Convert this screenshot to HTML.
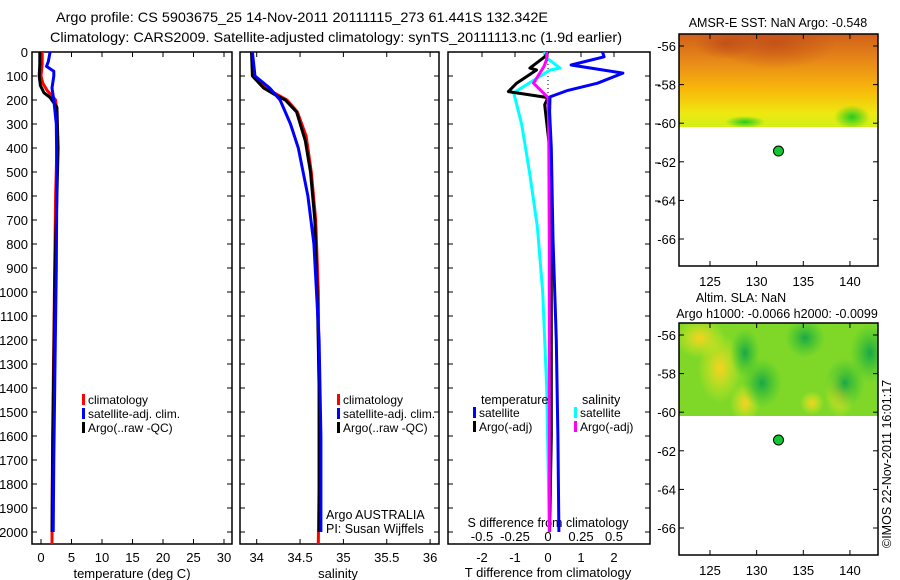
<!DOCTYPE html>
<html><head><meta charset="utf-8"><style>
html,body{margin:0;padding:0;background:#fff;}
svg{display:block;font-family:"Liberation Sans",sans-serif;}
</style></head><body>
<svg id="fig" width="900" height="580" viewBox="0 0 900 580" xmlns="http://www.w3.org/2000/svg">
<defs>
<linearGradient id="sstg" x1="0" y1="0" x2="0" y2="1">
<stop offset="0" stop-color="#d0601a"/><stop offset="0.3" stop-color="#e88a18"/><stop offset="0.6" stop-color="#f8b80a"/><stop offset="0.85" stop-color="#eee810"/><stop offset="1" stop-color="#d0f018"/>
</linearGradient>
<radialGradient id="sstg2"><stop offset="0" stop-color="#b84018" stop-opacity="0.6"/><stop offset="1" stop-color="#b84018" stop-opacity="0"/></radialGradient>
<radialGradient id="green"><stop offset="0" stop-color="#10c820" stop-opacity="0.9"/><stop offset="1" stop-color="#10c820" stop-opacity="0"/></radialGradient>
<radialGradient id="yel"><stop offset="0" stop-color="#f8d020" stop-opacity="1"/><stop offset="1" stop-color="#e0f020" stop-opacity="0"/></radialGradient>
<radialGradient id="dkg"><stop offset="0" stop-color="#18a848" stop-opacity="1"/><stop offset="1" stop-color="#30c030" stop-opacity="0"/></radialGradient>
</defs>
<text x="302" y="22" text-anchor="middle" font-size="14" textLength="492" lengthAdjust="spacingAndGlyphs">Argo profile: CS 5903675_25 14-Nov-2011 20111115_273 61.441S 132.342E</text>
<text x="336" y="42" text-anchor="middle" font-size="14" textLength="572" lengthAdjust="spacingAndGlyphs">Climatology: CARS2009. Satellite-adjusted climatology: synTS_20111113.nc (1.9d earlier)</text>
<g id="plots"></g>
</svg>
<script>
// depth levels (m)
const depthTicks=[0,100,200,300,400,500,600,700,800,900,1000,1100,1200,1300,1400,1500,1600,1700,1800,1900,2000];
// temperature profiles
const tClimD=[0,50,100,130,160,200,250,400,600,800,1200,1600,2050];
const tClimV=[0.2,0.2,0.0,0.3,1.0,2.4,2.6,2.6,2.4,2.3,2.1,1.9,1.8];
const tSatD=[0,40,60,80,100,150,200,300,500,900,1300,1700,2000];
const tSatV=[1.5,1.2,0.9,2.1,2.1,1.8,2.1,2.5,2.6,2.5,2.3,2.1,2.0];
const tArgoD=[0,50,100,140,170,190,230,400,600,900,1300,1700,2000];
const tArgoV=[-0.2,-0.2,-0.3,-0.1,0.5,1.5,2.6,2.8,2.6,2.3,2.1,1.9,1.8];
// salinity profiles
const sClimD=[0,100,150,180,200,250,350,500,700,1000,1400,1800,2050];
const sClimV=[33.95,33.96,34.1,34.25,34.35,34.47,34.57,34.63,34.68,34.71,34.72,34.72,34.71];
const sSatD=[0,100,150,200,300,400,600,800,1200,1600,2000];
const sSatV=[33.95,33.98,34.15,34.27,34.39,34.48,34.59,34.66,34.72,34.74,34.74];
const sArgoD=[0,100,150,180,200,250,370,500,700,1030,1400,1800,2000];
const sArgoV=[33.94,33.95,34.08,34.22,34.33,34.46,34.56,34.62,34.67,34.7,34.72,34.72,34.72];
// differences
const dTSatD=[0,20,54,88,130,160,187,250,400,780,1200,1600,2000];
const dTSatV=[1.65,1.7,0.7,2.27,1.5,0.6,0.06,0.05,0.1,0.15,0.25,0.3,0.33];
const dTArgoD=[0,20,67,75,130,165,190,220,400,800,1200,1600,2000];
const dTArgoV=[0.0,-0.1,-0.55,-0.35,-0.95,-1.2,0.0,-0.1,0.05,0.1,0.1,0.1,0.05];
const dSSatD=[0,20,67,75,170,300,500,730,1000,1400,2000];
const dSSatV=[-0.03,-0.02,0.09,0.015,-0.26,-0.2,-0.14,-0.08,-0.04,-0.01,0.01];
const dSArgoD=[0,30,60,130,190,300,800,1400,2000];
const dSArgoV=[-0.01,-0.01,-0.03,-0.11,0.0,0.005,0.01,0.01,0.01];
const tTicks=[0,5,10,15,20,25,30];
const sTicks=[34,34.5,35,35.5,36];
const dTTicks=[-2,-1,0,1,2];
const dSTicks=[-0.5,-0.25,0,0.25,0.5];
const lonTicks=[125,130,135,140];
const latTicks=[-56,-58,-60,-62,-64,-66];
const argoLon=132.342, argoLat=-61.441;

const NS="http://www.w3.org/2000/svg";
const root=document.getElementById('plots');
function el(tag,attrs,parent){const e=document.createElementNS(NS,tag);for(const k in attrs)e.setAttribute(k,attrs[k]);(parent||root).appendChild(e);return e;}
function txt(x,y,s,anchor,size,parent){const t=el('text',{x:x,y:y,'text-anchor':anchor||'start','font-size':size||13},parent);t.textContent=s;return t;}
const yD=d=>52+d*0.24;
const xT=v=>41+v*6.1;
const xS=v=>256.7+(v-34)*86.7;
const xDT=v=>548+v*33;
const xDS=v=>548+v*132;

function panel(x0,x1,name){
  const g=el('g',{});
  
  
  el('rect',{x:x0,y:52,width:x1-x0,height:492,fill:'none',stroke:'#000','stroke-width':1.5},g);
  depthTicks.forEach(d=>{
    el('line',{x1:x0,x2:x0+5,y1:yD(d),y2:yD(d),stroke:'#000'},g);
    el('line',{x1:x1-5,x2:x1,y1:yD(d),y2:yD(d),stroke:'#000'},g);
  });
  return g;
}
function line(D,V,xf,color,w,name,parent){
  const pts=D.map((d,i)=>xf(V[i]).toFixed(1)+','+yD(d).toFixed(1)).join(' ');
  const p=el('polyline',{points:pts,fill:'none',stroke:color,'stroke-width':w||3,'stroke-linejoin':'round'},parent);
  
  
  return p;
}
function legend(x,y,color,label,parent){
  const g=el('g',{},parent);
  
  
  el('rect',{x:x,y:y-10,width:3,height:11,fill:color},g);
  txt(x+6,y,label,'start',12,g);
}

// Panel 1 temperature
const p1=panel(32,232,'temperature-panel');
depthTicks.forEach(d=>{txt(28,yD(d)+5,String(d),'end',13,p1);});
tTicks.forEach(v=>{el('line',{x1:xT(v),x2:xT(v),y1:52,y2:57,stroke:'#000'},p1);el('line',{x1:xT(v),x2:xT(v),y1:539,y2:544,stroke:'#000'},p1);txt(xT(v),562,String(v),'middle',13,p1);});
txt(132,578,'temperature (deg C)','middle',13,p1);
line(tClimD,tClimV,xT,'#ff0000',3,'temp-climatology-line',p1);
line(tArgoD,tArgoV,xT,'#000000',3,'temp-argo-line',p1);
line(tSatD,tSatV,xT,'#0000ff',3,'temp-satellite-line',p1);
legend(82,404,'#ff0000','climatology',p1);
legend(82,418,'#0000ff','satellite-adj. clim.',p1);
legend(82,432,'#000000','Argo(..raw -QC)',p1);

// Panel 2 salinity
const p2=panel(240,439,'salinity-panel');
sTicks.forEach(v=>{el('line',{x1:xS(v),x2:xS(v),y1:52,y2:57,stroke:'#000'},p2);el('line',{x1:xS(v),x2:xS(v),y1:539,y2:544,stroke:'#000'},p2);txt(xS(v),562,String(v),'middle',13,p2);});
txt(338,578,'salinity','middle',13,p2);
line(sClimD,sClimV,xS,'#ff0000',3,'sal-climatology-line',p2);
line(sArgoD,sArgoV,xS,'#000000',3,'sal-argo-line',p2);
line(sSatD,sSatV,xS,'#0000ff',3,'sal-satellite-line',p2);
legend(337,404,'#ff0000','climatology',p2);
legend(337,418,'#0000ff','satellite-adj. clim.',p2);
legend(337,432,'#000000','Argo(..raw -QC)',p2);
txt(326,519,'Argo AUSTRALIA','start',12.5,p2);
txt(326,533,'PI: Susan Wijffels','start',12.5,p2);

// Panel 3 differences
const p3=panel(448,650,'difference-panel');
dTTicks.forEach(v=>{el('line',{x1:xDT(v),x2:xDT(v),y1:52,y2:57,stroke:'#000'},p3);txt(xDT(v),562,String(v),'middle',13,p3);});
dSTicks.forEach(v=>{txt(xDS(v),541,String(v),'middle',13,p3);});
txt(548,527,'S difference from climatology','middle',12.5,p3);
txt(548,577,'T difference from climatology','middle',13,p3);
el('line',{x1:548,x2:548,y1:52,y2:110,stroke:'#000','stroke-dasharray':'1,3'},p3);
[85,124,163,201].forEach(y=>el('line',{x1:655,x2:660,y1:y,y2:y,stroke:'#000'},p3));
line(dSSatD,dSSatV,xDS,'#00ffff',3,'sal-diff-satellite-line',p3);
line(dTArgoD,dTArgoV,xDT,'#000000',3,'temp-diff-argo-line',p3);
line(dSArgoD,dSArgoV,xDS,'#ff00ff',3,'sal-diff-argo-line',p3);
line(dTSatD,dTSatV,xDT,'#0000ff',3,'temp-diff-satellite-line',p3);
txt(481,404,'temperature','start',12.5,p3);
txt(582,404,'salinity','start',12.5,p3);
legend(473,417,'#0000ff','satellite',p3);
legend(473,431,'#000000','Argo(-adj)',p3);
legend(574,417,'#00ffff','satellite',p3);
legend(574,431,'#ff00ff','Argo(-adj)',p3);

// Maps
function map(top,name,kind){
  const g=el('g',{});
  
  
  const xL=v=>710+(v-125)*9.33;
  const yL=v=>top+12+(-56-v)*19.3;
  const imgH=yL(-60.2)-top;
  const clip='clip'+kind;
  const cp=el('clipPath',{id:clip},g);el('rect',{x:679,y:top,width:199,height:imgH},cp);
  const im=el('g',{'clip-path':'url(#'+clip+')'},g);
  
  
  if(kind==='sst'){
    el('rect',{x:679,y:top,width:199,height:imgH,fill:'url(#sstg)'},im);
    el('ellipse',{cx:775,cy:top+10,rx:60,ry:25,fill:'url(#sstg2)'},im);
    el('ellipse',{cx:725,cy:top+10,rx:30,ry:15,fill:'url(#sstg2)'},im);
    el('ellipse',{cx:852,cy:top+83,rx:18,ry:12,fill:'url(#green)'},im);
    el('ellipse',{cx:745,cy:top+88,rx:20,ry:6,fill:'url(#green)'},im);
  }else{
    el('rect',{x:679,y:top,width:199,height:imgH,fill:'#7fd828'},im);
    [[720,top+45,22,35],[745,top+80,15,20],[840,top+70,15,25],[700,top+15,25,20],[812,top+80,12,12]].forEach(c=>el('ellipse',{cx:c[0],cy:c[1],rx:c[2],ry:c[3],fill:'url(#yel)'},im));
    [[762,top+60,20,25],[845,top+60,20,25],[805,top+15,20,20],[745,top+30,15,25],[870,top+30,20,30]].forEach(c=>el('ellipse',{cx:c[0],cy:c[1],rx:c[2],ry:c[3],fill:'url(#dkg)'},im));
  }
  el('rect',{x:679,y:top,width:199,height:232,fill:'none',stroke:'#000','stroke-width':1.5},g);
  lonTicks.forEach(v=>{el('line',{x1:xL(v),x2:xL(v),y1:top,y2:top+5,stroke:'#000'},g);el('line',{x1:xL(v),x2:xL(v),y1:top+227,y2:top+232,stroke:'#000'},g);txt(xL(v),top+252,String(v),'middle',13,g);});
  latTicks.forEach(v=>{el('line',{x1:679,x2:684,y1:yL(v),y2:yL(v),stroke:'#000'},g);el('line',{x1:873,x2:878,y1:yL(v),y2:yL(v),stroke:'#000'},g);txt(676,yL(v)+5,String(v),'end',13,g);});
  const dot=el('circle',{cx:xL(argoLon),cy:yL(argoLat),r:5,fill:'#10c830',stroke:'#000','stroke-width':1},g);
  
  
}
map(34,'sst-map','sst');
txt(778,27,'AMSR-E SST: NaN Argo: -0.548','middle',12.5);
map(323,'sla-map','sla');
txt(741,302,'Altim. SLA: NaN','middle',12.5);
txt(777,318,'Argo h1000: -0.0066 h2000: -0.0099','middle',12.5);
const cr=txt(0,0,'©IMOS 22-Nov-2011 16:01:17','start',12.5);
cr.setAttribute('transform','translate(891,548) rotate(-90)');


</script>
</body></html>
